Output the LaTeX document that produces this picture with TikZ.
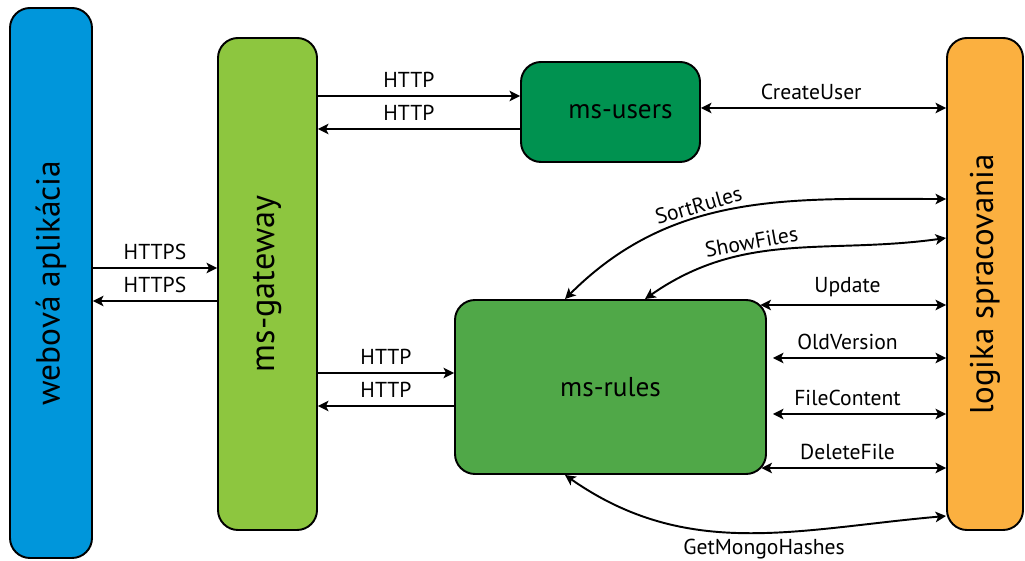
\documentclass[tikz,border=0pt]{standalone}
\usepackage{fontspec}
\setmainfont{PT Sans}
\usepackage{graphicx}
\usepackage{xcolor}
\usepackage{tikz}
\usetikzlibrary{arrows.meta}
\definecolor{webblue}{RGB}{0,150,219}
\definecolor{gwgreen}{RGB}{141,198,63}
\definecolor{usersgreen}{RGB}{0,146,80}
\definecolor{rulesgreen}{RGB}{80,168,72}
\definecolor{logorange}{RGB}{251,176,64}
\tikzset{box/.style = {draw=black, line width=1.1pt, rounded corners=0.4cm, inner sep=0pt}}
\tikzset{link/.style = {line width=1.1pt, >={Stealth[length=6pt,width=6pt,inset=1.5pt]}}}
\tikzset{lbl/.style = {font=\fontsize{12.3}{14}\selectfont}}

\begin{document}
\begin{tikzpicture}
            \useasboundingbox (0,0) rectangle (20.5,11.2);

            \node [box, fill=webblue, minimum width=1.64cm, minimum height=11cm, font=\fontsize{19}{22}\selectfont] (web) at (1.02, 5.54) {\rotatebox{90}{webová aplikácia}};
            \node [box, fill=gwgreen, minimum width=1.98cm, minimum height=9.84cm, font=\fontsize{19.5}{23}\selectfont] (gw) at (5.35, 5.52) {\rotatebox{90}{ms-gateway}};
            \node [box, fill=usersgreen, minimum width=3.58cm, minimum height=2cm, font=\fontsize{15.5}{18}\selectfont] (users) at (12.21, 8.96) {\hspace*{0.4cm}ms-users};
            \node [box, fill=rulesgreen, minimum width=6.22cm, minimum height=3.48cm, font=\fontsize{15.5}{18}\selectfont] (rules) at (12.21, 3.46) {ms-rules};
            \node [box, fill=logorange, minimum width=1.52cm, minimum height=9.84cm, font=\fontsize{18.7}{22}\selectfont] (logika) at (19.7, 5.52) {\rotatebox{90}{logika spracovania}};

            \draw [link, ->] (web.east |- 0,5.84) -- (gw.west |- 0,5.84) node [midway, above=1pt, lbl] {HTTPS};
            \draw [link, <-] (web.east |- 0,5.18) -- (gw.west |- 0,5.18) node [midway, above=1pt, lbl] {HTTPS};

            \draw [link, ->] (gw.east |- 0,9.28) -- (users.west |- 0,9.28) node [pos=0.45, above=1pt, lbl] {HTTP};
            \draw [link, <-] (gw.east |- 0,8.62) -- (users.west |- 0,8.62) node [pos=0.45, above=1pt, lbl] {HTTP};
            \draw [link, ->] (gw.east |- 0,3.74) -- (rules.west |- 0,3.74) node [midway, above=1pt, lbl] {HTTP};
            \draw [link, <-] (gw.east |- 0,3.08) -- (rules.west |- 0,3.08) node [midway, above=1pt, lbl] {HTTP};

            \draw [link, <->] (users.east |- 0,9.04) -- (logika.west |- 0,9.04) node [pos=0.45, above=1pt, lbl] {CreateUser};

            \draw [link, <->] (rules.north -| 11.3,0) to [out=45, in=180] node [pos=0.4, sloped, above=-1.5pt, lbl] {SortRules} (logika.west |- 0,7.22);
            \draw [link, <->] (rules.north -| 12.9,0) to [out=35, in=188] node [pos=0.38, sloped, above=-1.5pt, lbl] {ShowFiles} (logika.west |- 0,6.44);

            \draw [link, <->, shorten <=-1.3mm] (rules.east |- 0,5.10) -- (logika.west |- 0,5.10) node [pos=0.45, above=1pt, lbl] {Update};
            \draw [link, <->, shorten <=1.2mm] (rules.east |- 0,4.04) -- (logika.west |- 0,4.04) node [pos=0.45, above=1pt, lbl] {OldVersion};
            \draw [link, <->, shorten <=1.2mm] (rules.east |- 0,2.92) -- (logika.west |- 0,2.92) node [pos=0.45, above=1pt, lbl] {FileContent};
            \draw [link, <->, shorten <=-1.1mm] (rules.east |- 0,1.84) -- (logika.west |- 0,1.84) node [pos=0.45, above=1pt, lbl] {DeleteFile};

            \draw [link, <->] (rules.south -| 11.3,0) to [out=-35, in=185] node [pos=0.55, below, lbl] {GetMongoHashes} (logika.west |- 0,0.88);
        \end{tikzpicture}
\end{document}
